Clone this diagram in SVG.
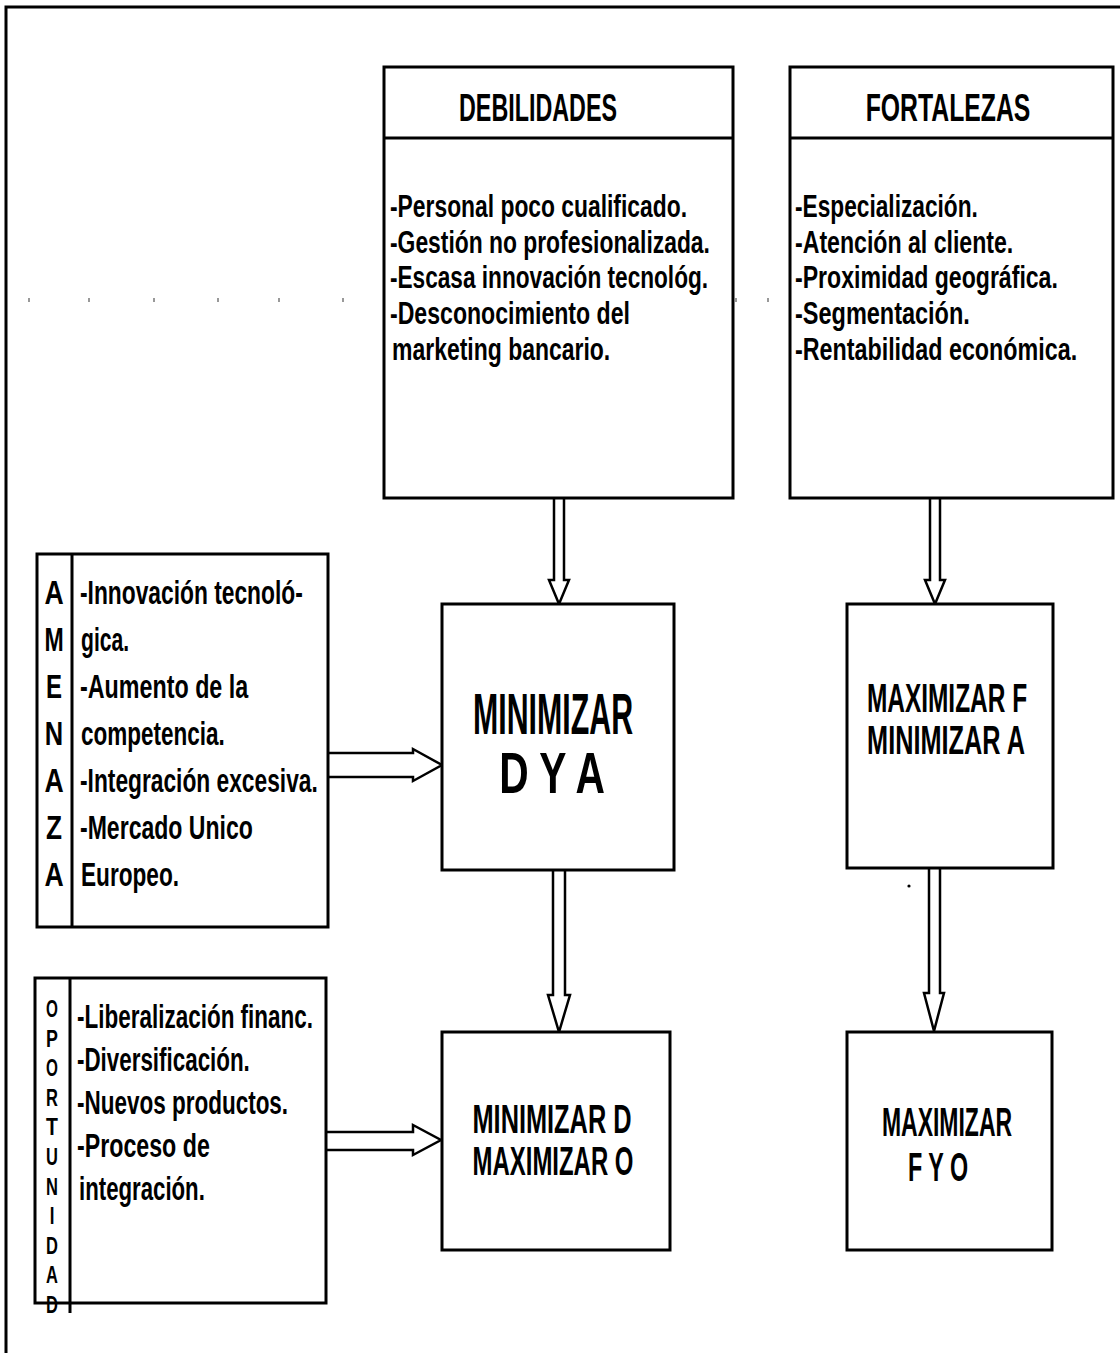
<svg xmlns="http://www.w3.org/2000/svg" width="1120" height="1353" viewBox="0 0 1120 1353">
  <style>
    .box { fill: #fff; stroke: #000; stroke-width: 3; }
    .rule { fill: none; stroke: #000; stroke-width: 3; }
    .arrow { fill: #fff; stroke: #000; stroke-width: 2.5; stroke-linejoin: miter; }
    .tick { stroke: #555; stroke-width: 1.2; }
    text { font-family: "Liberation Sans", Arial, Helvetica, sans-serif; font-weight: bold; fill: #000; }
    .head { font-size: 38px; text-anchor: middle; }
    .body { font-size: 31px; }
    .side { font-size: 33px; }
    .big { font-size: 58px; text-anchor: middle; }
    .mid { font-size: 40px; text-anchor: middle; }
    .letter { font-size: 33px; text-anchor: middle; }
    .small-letter { font-size: 24px; text-anchor: middle; }
  </style>

  <rect width="1120" height="1353" fill="#fff"/>

  <!-- page frame: top and left edges -->
  <path class="rule" d="M6,1353 L6,7 L1120,7"/>

  <!-- faint leader dots -->
  <g id="leaders">
    <g class="tick">
      <line x1="430" y1="158" x2="430" y2="162"/><line x1="463" y1="158" x2="463" y2="162"/>
      <line x1="496" y1="158" x2="496" y2="162"/><line x1="529" y1="158" x2="529" y2="162"/>
      <line x1="561" y1="158" x2="561" y2="162"/><line x1="594" y1="158" x2="594" y2="162"/>
      <line x1="627" y1="158" x2="627" y2="162"/><line x1="660" y1="158" x2="660" y2="162"/>
      <line x1="692" y1="158" x2="692" y2="162"/>
      <line x1="857" y1="158" x2="857" y2="162"/><line x1="888" y1="158" x2="888" y2="162"/>
      <line x1="920" y1="158" x2="920" y2="162"/><line x1="951" y1="158" x2="951" y2="162"/>
      <line x1="983" y1="158" x2="983" y2="162"/>
      <line x1="29" y1="298" x2="29" y2="302"/><line x1="89" y1="298" x2="89" y2="302"/>
      <line x1="154" y1="298" x2="154" y2="302"/><line x1="218" y1="298" x2="218" y2="302"/>
      <line x1="279" y1="298" x2="279" y2="302"/><line x1="343" y1="298" x2="343" y2="302"/>
      <line x1="736" y1="298" x2="736" y2="302"/><line x1="768" y1="298" x2="768" y2="302"/>
      <line x1="1071" y1="298" x2="1071" y2="302"/><line x1="1100" y1="298" x2="1100" y2="302"/>
    </g>
    <circle cx="818" cy="85" r="1.6" fill="#000"/>
    <circle cx="909" cy="886" r="1.6" fill="#000"/>
  </g>

  <!-- connectors: hollow block arrows -->
  <g id="connectors">
    <path class="arrow" d="M554,498 L554,580 L549,580 L559,604 L569,580 L564,580 L564,498"/>
    <path class="arrow" d="M930,498 L930,580 L925,580 L935,604 L945,580 L940,580 L940,498"/>
    <path class="arrow" d="M553,870 L553,995 L548,995 L559,1032 L570,995 L565,995 L565,870"/>
    <path class="arrow" d="M929,868 L929,993 L924,993 L934,1031 L944,993 L940,993 L940,868"/>
    <path class="arrow" d="M328,753 L413,753 L413,749 L442,765 L413,781 L413,777 L328,777"/>
    <path class="arrow" d="M326,1132 L413,1132 L413,1125 L441,1140 L413,1155 L413,1150 L326,1150"/>
  </g>

  <g id="debilidades">
    <rect class="box" x="384" y="67" width="349" height="431"/>
    <line class="rule" x1="384" y1="138" x2="733" y2="138"/>
    <text class="head" transform="translate(538,121) scale(0.61,1)" textLength="259" lengthAdjust="spacingAndGlyphs">DEBILIDADES</text>
    <text class="body" transform="translate(390,217) scale(0.62,1)" textLength="479" lengthAdjust="spacingAndGlyphs">-Personal poco cualificado.</text>
    <text class="body" transform="translate(390,253) scale(0.62,1)" textLength="516" lengthAdjust="spacingAndGlyphs">-Gestión no profesionalizada.</text>
    <text class="body" transform="translate(390,288) scale(0.62,1)" textLength="513" lengthAdjust="spacingAndGlyphs">-Escasa innovación tecnológ.</text>
    <text class="body" transform="translate(390,324) scale(0.62,1)" textLength="387" lengthAdjust="spacingAndGlyphs">-Desconocimiento del</text>
    <text class="body" transform="translate(392,360) scale(0.62,1)" textLength="352" lengthAdjust="spacingAndGlyphs">marketing bancario.</text>
  </g>

  <g id="fortalezas">
    <rect class="box" x="790" y="67" width="323" height="431"/>
    <line class="rule" x1="790" y1="138" x2="1113" y2="138"/>
    <text class="head" transform="translate(948,121) scale(0.61,1)" textLength="270" lengthAdjust="spacingAndGlyphs">FORTALEZAS</text>
    <text class="body" transform="translate(795,217) scale(0.62,1)" textLength="295" lengthAdjust="spacingAndGlyphs">-Especialización.</text>
    <text class="body" transform="translate(795,253) scale(0.62,1)" textLength="352" lengthAdjust="spacingAndGlyphs">-Atención al cliente.</text>
    <text class="body" transform="translate(795,288) scale(0.62,1)" textLength="424" lengthAdjust="spacingAndGlyphs">-Proximidad geográfica.</text>
    <text class="body" transform="translate(795,324) scale(0.62,1)" textLength="282" lengthAdjust="spacingAndGlyphs">-Segmentación.</text>
    <text class="body" transform="translate(795,360) scale(0.62,1)" textLength="455" lengthAdjust="spacingAndGlyphs">-Rentabilidad económica.</text>
  </g>

  <g id="amenaza">
    <rect class="box" x="37" y="554" width="291" height="373"/>
    <line class="rule" x1="72" y1="554" x2="72" y2="927"/>
    <text class="letter" transform="translate(54,604) scale(0.8,1)" textLength="24" lengthAdjust="spacingAndGlyphs">A</text>
    <text class="letter" transform="translate(54,651) scale(0.8,1)" textLength="24" lengthAdjust="spacingAndGlyphs">M</text>
    <text class="letter" transform="translate(54,698) scale(0.8,1)" textLength="20" lengthAdjust="spacingAndGlyphs">E</text>
    <text class="letter" transform="translate(54,745) scale(0.8,1)" textLength="23" lengthAdjust="spacingAndGlyphs">N</text>
    <text class="letter" transform="translate(54,792) scale(0.8,1)" textLength="24" lengthAdjust="spacingAndGlyphs">A</text>
    <text class="letter" transform="translate(54,839) scale(0.8,1)" textLength="20" lengthAdjust="spacingAndGlyphs">Z</text>
    <text class="letter" transform="translate(54,886) scale(0.8,1)" textLength="24" lengthAdjust="spacingAndGlyphs">A</text>
    <text class="side" transform="translate(80,604) scale(0.58,1)" textLength="384" lengthAdjust="spacingAndGlyphs">-Innovación tecnoló-</text>
    <text class="side" transform="translate(81,651) scale(0.58,1)" textLength="83" lengthAdjust="spacingAndGlyphs">gica.</text>
    <text class="side" transform="translate(80,698) scale(0.58,1)" textLength="290" lengthAdjust="spacingAndGlyphs">-Aumento de la</text>
    <text class="side" transform="translate(81,745) scale(0.58,1)" textLength="248" lengthAdjust="spacingAndGlyphs">competencia.</text>
    <text class="side" transform="translate(80,792) scale(0.58,1)" textLength="410" lengthAdjust="spacingAndGlyphs">-Integración excesiva.</text>
    <text class="side" transform="translate(80,839) scale(0.58,1)" textLength="298" lengthAdjust="spacingAndGlyphs">-Mercado Unico</text>
    <text class="side" transform="translate(81,886) scale(0.58,1)" textLength="169" lengthAdjust="spacingAndGlyphs">Europeo.</text>
  </g>

  <g id="oportunidad">
    <rect class="box" x="35" y="978" width="291" height="325"/>
    <line class="rule" x1="70" y1="978" x2="70" y2="1313"/>
    <text class="small-letter" transform="translate(52,1017) scale(0.7,1)" textLength="17" lengthAdjust="spacingAndGlyphs">O</text>
    <text class="small-letter" transform="translate(52,1047) scale(0.7,1)" textLength="17" lengthAdjust="spacingAndGlyphs">P</text>
    <text class="small-letter" transform="translate(52,1076) scale(0.7,1)" textLength="17" lengthAdjust="spacingAndGlyphs">O</text>
    <text class="small-letter" transform="translate(52,1106) scale(0.7,1)" textLength="17" lengthAdjust="spacingAndGlyphs">R</text>
    <text class="small-letter" transform="translate(52,1135) scale(0.7,1)" textLength="17" lengthAdjust="spacingAndGlyphs">T</text>
    <text class="small-letter" transform="translate(52,1165) scale(0.7,1)" textLength="17" lengthAdjust="spacingAndGlyphs">U</text>
    <text class="small-letter" transform="translate(52,1195) scale(0.7,1)" textLength="17" lengthAdjust="spacingAndGlyphs">N</text>
    <text class="small-letter" transform="translate(52,1224) scale(0.7,1)">I</text>
    <text class="small-letter" transform="translate(52,1254) scale(0.7,1)" textLength="17" lengthAdjust="spacingAndGlyphs">D</text>
    <text class="small-letter" transform="translate(52,1283) scale(0.7,1)" textLength="17" lengthAdjust="spacingAndGlyphs">A</text>
    <text class="small-letter" transform="translate(52,1313) scale(0.7,1)" textLength="17" lengthAdjust="spacingAndGlyphs">D</text>
    <text class="side" transform="translate(77,1028) scale(0.58,1)" textLength="407" lengthAdjust="spacingAndGlyphs">-Liberalización financ.</text>
    <text class="side" transform="translate(77,1071) scale(0.58,1)" textLength="298" lengthAdjust="spacingAndGlyphs">-Diversificación.</text>
    <text class="side" transform="translate(77,1114) scale(0.58,1)" textLength="364" lengthAdjust="spacingAndGlyphs">-Nuevos productos.</text>
    <text class="side" transform="translate(77,1157) scale(0.58,1)" textLength="229" lengthAdjust="spacingAndGlyphs">-Proceso de</text>
    <text class="side" transform="translate(79,1200) scale(0.58,1)" textLength="217" lengthAdjust="spacingAndGlyphs">integración.</text>
  </g>

  <g id="min-d-y-a">
    <rect class="box" x="442" y="604" width="232" height="266"/>
    <text class="big" transform="translate(553,734) scale(0.52,1)" textLength="308" lengthAdjust="spacingAndGlyphs">MINIMIZAR</text>
    <text class="big" transform="translate(552,793) scale(0.7,1)" font-size="50" textLength="151" lengthAdjust="spacingAndGlyphs">D Y A</text>
  </g>

  <g id="max-f-min-a">
    <rect class="box" x="847" y="604" width="206" height="264"/>
    <text class="mid" transform="translate(947,712) scale(0.6,1)" textLength="267" lengthAdjust="spacingAndGlyphs">MAXIMIZAR F</text>
    <text class="mid" transform="translate(946,754) scale(0.6,1)" textLength="263" lengthAdjust="spacingAndGlyphs">MINIMIZAR  A</text>
  </g>

  <g id="min-d-max-o">
    <rect class="box" x="442" y="1032" width="228" height="218"/>
    <text class="mid" transform="translate(552,1133) scale(0.6,1)" textLength="265" lengthAdjust="spacingAndGlyphs">MINIMIZAR  D</text>
    <text class="mid" transform="translate(553,1175) scale(0.6,1)" textLength="268" lengthAdjust="spacingAndGlyphs">MAXIMIZAR O</text>
  </g>

  <g id="max-f-y-o">
    <rect class="box" x="847" y="1032" width="205" height="218"/>
    <text class="mid" transform="translate(947,1136) scale(0.6,1)" textLength="217" lengthAdjust="spacingAndGlyphs">MAXIMIZAR</text>
    <text class="mid" transform="translate(938,1181) scale(0.6,1)" textLength="100" lengthAdjust="spacingAndGlyphs">F Y O</text>
  </g>
</svg>
